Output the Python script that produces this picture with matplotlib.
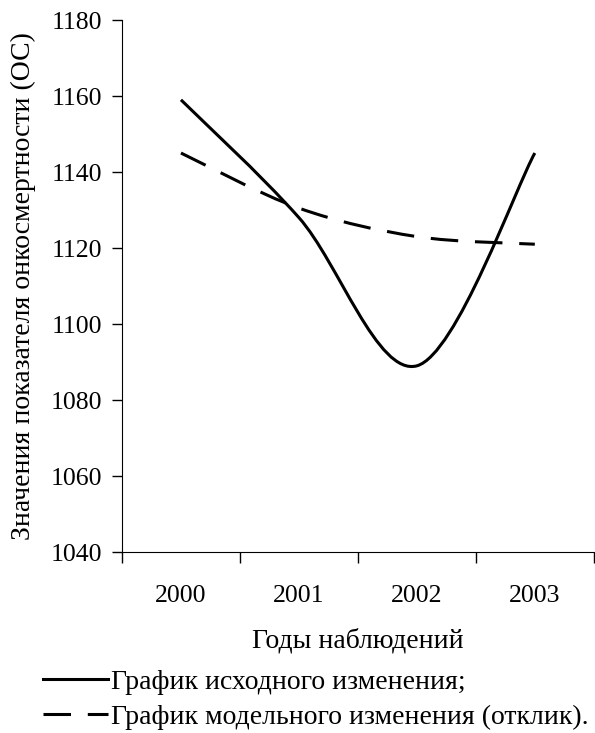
import numpy as np
import matplotlib
matplotlib.use('Agg')
from matplotlib import pyplot as plt
from matplotlib.path import Path
from matplotlib.patches import PathPatch
from matplotlib.lines import Line2D

# data
years = ['2000', '2001', '2002', '2003']
source_vals = [1159, 1128, 1089, 1145]
model_vals = [1145, 1130.5, 1123, 1121]
series_names = ['График исходного изменения;', 'График модельного изменения (отклик).']

plt.rcParams['font.family'] = ['Liberation Serif', 'DejaVu Serif']
plt.rcParams['font.size'] = 18.5


def smooth_path(xs, ys):
    # Excel-like smoothed line: cubic bezier between each pair of points
    pts = np.column_stack([xs, ys]).astype(float)
    n = len(pts)
    verts = [pts[0]]
    codes = [Path.MOVETO]
    for i in range(n - 1):
        p0 = pts[max(i - 1, 0)]
        p1 = pts[i]
        p2 = pts[i + 1]
        p3 = pts[min(i + 2, n - 1)]
        verts += [p1 + (p2 - p0) / 6.0, p2 - (p3 - p1) / 6.0, p2]
        codes += [Path.CURVE4] * 3
    return Path(verts, codes)


fig = plt.figure(figsize=(5.95, 7.33), dpi=100)
ax = fig.add_axes([0.205, 0.2469, 0.793, 0.7258])

x = np.arange(len(years))
lw = 2.2
dash = (0, (9, 5.5))

ax.add_patch(PathPatch(smooth_path(x, source_vals), fill=False,
                       edgecolor='black', linewidth=lw, capstyle='butt'))
ax.add_patch(PathPatch(smooth_path(x, model_vals), fill=False,
                       edgecolor='black', linewidth=lw, linestyle=dash,
                       capstyle='butt'))

ax.set_xlim(-0.5, len(years) - 0.5)
ax.set_ylim(1040, 1180)
ax.set_yticks(np.arange(1040, 1181, 20))

ax.set_xticks(np.arange(-0.5, len(years), 1.0))
ax.set_xticklabels([])
ax.set_xticks(x, minor=True)
ax.set_xticklabels(years, minor=True)
ax.tick_params(axis='x', which='major', direction='out', length=8, width=1)
ax.tick_params(axis='x', which='minor', length=0, pad=24)
ax.tick_params(axis='y', direction='out', length=7, width=1, pad=7)

ax.spines['top'].set_visible(False)
ax.spines['right'].set_visible(False)

ax.set_xlabel('Годы наблюдений', fontsize=20, labelpad=15)
ax.set_ylabel('Значения показателя онкосмертности (ОС)', fontsize=20, labelpad=11)

handles = [Line2D([], [], color='black', lw=lw),
           Line2D([], [], color='black', lw=lw, linestyle=dash)]
fig.legend(handles, series_names, loc='upper left',
           bbox_to_anchor=(0.072, 0.087), frameon=False, fontsize=20,
           handlelength=2.35, handletextpad=0.12, labelspacing=0.35,
           borderaxespad=0, borderpad=0)

fig.savefig('out.png', dpi=100)
